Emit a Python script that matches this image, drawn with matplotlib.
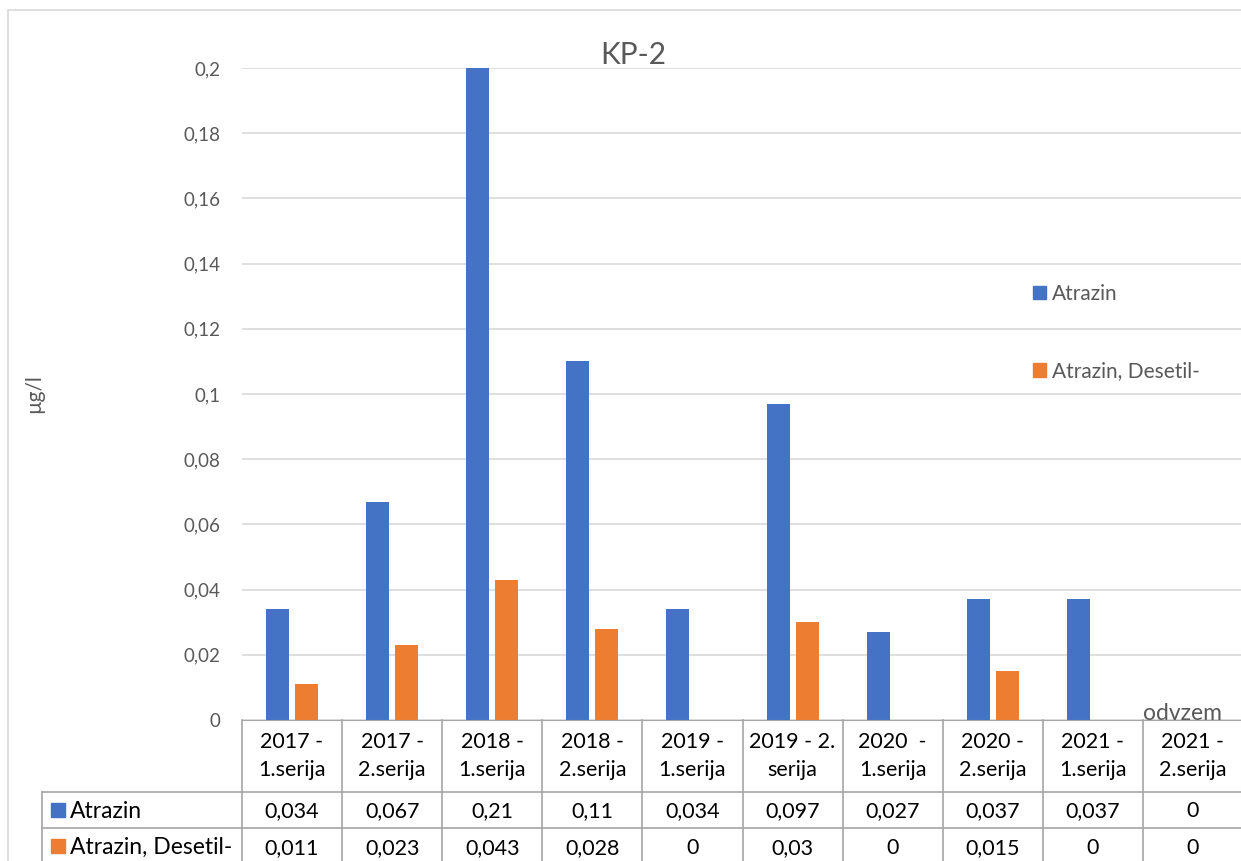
import matplotlib.pyplot as plt
import numpy as np
from matplotlib.patches import Rectangle

# Data
categories = [
    "2017 -\n1.serija", "2017 -\n2.serija", "2018 -\n1.serija", "2018 -\n2.serija",
    "2019 -\n1.serija", "2019 - 2.\nserija", "2020  -\n1.serija", "2020 -\n2.serija",
    "2021 -\n1.serija", "2021 -\n2.serija",
]
atrazin = [0.034, 0.067, 0.21, 0.11, 0.034, 0.097, 0.027, 0.037, 0.037, 0]
desetil = [0.011, 0.023, 0.043, 0.028, 0, 0.03, 0, 0.015, 0, 0]
series_names = ["Atrazin", "Atrazin, Desetil-"]
y_ticks = [0, 0.02, 0.04, 0.06, 0.08, 0.1, 0.12, 0.14, 0.16, 0.18, 0.2]

BLUE = "#4472C4"
ORANGE = "#ED7D31"
GRAY_TXT = "#595959"
LINE = "#a6a6a6"

plt.rcParams["font.family"] = ["Lato", "DejaVu Sans"]

W, H = 1241, 861


def fx(px):
    return px / W


def fy(py):
    return 1 - py / H


def comma(v):
    return f"{v:g}".replace(".", ",")


fig = plt.figure(figsize=(W / 100, H / 100), dpi=100)

# outer chart frame (cropped at right/bottom)
fig.patches.append(Rectangle((fx(8), fy(900)), fx(1300), fy(10) - fy(900),
                             transform=fig.transFigure, fill=False,
                             edgecolor="#d9d9d9", lw=1.2))

ax = fig.add_axes([fx(242), fy(720), fx(1243) - fx(242), fy(68) - fy(720)])

x = np.arange(len(categories))
ax.bar(x - 0.145, atrazin, width=0.23, color=BLUE, zorder=2)
ax.bar(x + 0.145, desetil, width=0.23, color=ORANGE, zorder=2)

ax.set_xlim(-0.5, len(categories) - 0.5)
ax.set_ylim(0, 0.2)
ax.set_yticks(y_ticks)
ax.set_yticklabels([comma(t) for t in y_ticks])
ax.tick_params(axis="y", length=0, pad=15.5, labelcolor=GRAY_TXT, labelsize=13.5)
ax.set_xticks([])
ax.grid(axis="y", color="#d9d9d9", lw=1.2)
ax.set_axisbelow(True)
for s in ["left", "right", "top"]:
    ax.spines[s].set_visible(False)
ax.spines["bottom"].set_color(LINE)
ax.spines["bottom"].set_zorder(3)

trans = ax.get_xaxis_transform()

# axis title, its lower part hidden behind the table
ax.text(8.9, 0.0, "odvzem", transform=trans, ha="center", va="baseline",
        fontsize=16.5, color=GRAY_TXT, clip_on=True)

# data table under the axis
ax_h = 720 - 68
hdr_b = -72 / ax_h
r1_b = -108 / ax_h
r2_b = -144 / ax_h
lkw = dict(color=LINE, lw=1.2, transform=trans, clip_on=False)

for yb in [hdr_b, r1_b, r2_b]:
    ax.plot([-2.5, len(categories) - 0.5], [yb, yb], **lkw)
for k in range(len(categories) + 1):
    ax.plot([k - 0.5, k - 0.5], [0, r2_b], **lkw)
ax.plot([-2.5, -2.5], [hdr_b, r2_b], **lkw)

tkw = dict(transform=trans, ha="center", va="center", fontsize=15.5,
           color="black", clip_on=False)
for i, lab in enumerate(categories):
    ax.text(i, hdr_b / 2, lab, linespacing=1.45, **tkw)
    ax.text(i, (hdr_b + r1_b) / 2 - 1 / ax_h, comma(atrazin[i]), **tkw)
    ax.text(i, (r1_b + r2_b) / 2 - 2 / ax_h, comma(desetil[i]), **tkw)

for name, col, (top, bot) in zip(series_names, [BLUE, ORANGE],
                                 [(hdr_b, r1_b), (r1_b, r2_b)]):
    mid = (top + bot) / 2
    ax.add_patch(Rectangle((-2.41, mid - 7 / ax_h), 0.14, 14 / ax_h,
                           transform=trans, color=col, clip_on=False))
    ax.text(-2.22, mid - 1 / ax_h, name, transform=trans, ha="left",
            va="center", fontsize=16.5, color="black", clip_on=False)

# legend
handles = [Rectangle((0, 0), 1, 1, color=c) for c in [BLUE, ORANGE]]
fig.legend(handles, series_names, loc="upper left",
           bbox_to_anchor=(fx(1033), fy(284)), frameon=False,
           handlelength=0.6, handleheight=0.6, handletextpad=0.3,
           labelspacing=2.75, fontsize=15, labelcolor=GRAY_TXT,
           borderpad=0, borderaxespad=0)

fig.text(fx(633), fy(55), "KP-2", ha="center", va="center", fontsize=21.5,
         color=GRAY_TXT)
fig.text(fx(34), fy(394), "µg/l", ha="center", va="center", rotation=90,
         fontsize=15, color=GRAY_TXT)

fig.savefig("out.png", dpi=100)
